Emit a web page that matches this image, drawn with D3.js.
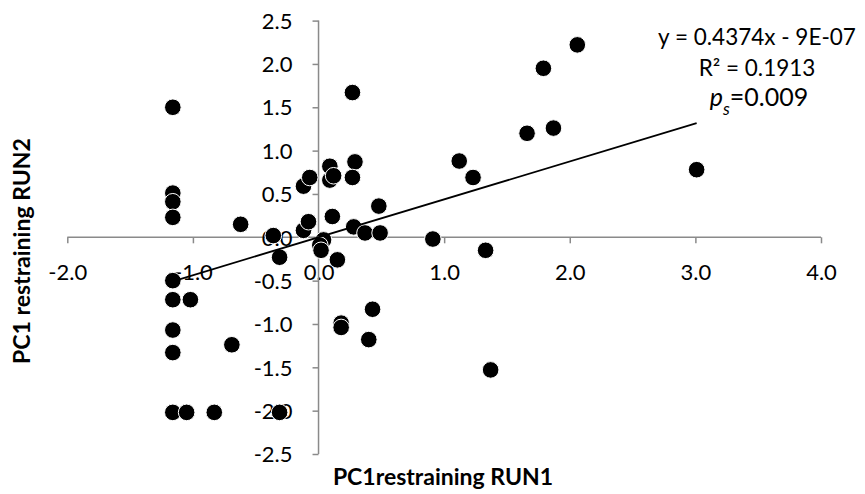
<!DOCTYPE html>
<html>
<head>
<meta charset="utf-8">
<script src="https://cdn.jsdelivr.net/npm/d3@7"></script>
<style>
  body { margin: 0; background: #fff; }
  text { font-family: "Lato", "Open Sans", sans-serif; }
</style>
</head>
<body>
<div id="chart"></div>
<script>
// chart values
var xValues = [-1.16, -1.16, -1.16, -1.16, -1.16, -1.16, -1.02, -1.16, -1.16, -1.16,
               -1.05, -0.83, -0.31, -0.69, -0.62, -0.36, -0.31, -0.12, -0.08, -0.12,
               -0.07, 0.09, 0.09, 0.12, 0.27, 0.29, 0.27, 0.11, 0.28, 0.37,
               0.48, 0.49, 0.04, 0.01, 0.02, 0.15, 0.18, 0.18, 0.43, 0.40,
               2.06, 1.79, 1.66, 1.87, 1.12, 1.23, 3.01, 0.91, 1.33, 1.37];
var yValues = [1.50, 0.51, 0.41, 0.23, -0.50, -0.72, -0.72, -1.07, -1.33, -2.02,
               -2.02, -2.02, -2.02, -1.24, 0.15, 0.02, -0.23, 0.08, 0.18, 0.59,
               0.69, 0.82, 0.66, 0.71, 1.67, 0.87, 0.69, 0.24, 0.12, 0.05,
               0.36, 0.05, -0.03, -0.09, -0.15, -0.26, -0.99, -1.04, -0.83, -1.18,
               2.22, 1.95, 1.20, 1.26, 0.88, 0.69, 0.78, -0.02, -0.15, -1.53];
var xTicks = [-2, -1, 0, 1, 2, 3, 4];
var yTicks = [-2.5, -2, -1.5, -1, -0.5, 0, 0.5, 1, 1.5, 2, 2.5];
var slope = 0.4374, intercept = -9e-7;
var fitLines = ["y = 0.4374x - 9E-07", "R² = 0.1913"];

var width = 865, height = 494;
var svg = d3.select("#chart").append("svg")
    .attr("width", width)
    .attr("height", height);

// scales
var xScale = d3.scaleLinear().domain([-2, 4]).range([67.3, 821]);
var yScale = d3.scaleLinear().domain([-2.5, 2.5]).range([454, 20.6]);

var axisColor = "#8a8a8a";
// excel style labels use a plain hyphen
var fmt = d3.formatLocale({decimal: ".", thousands: ",", grouping: [3], currency: ["", ""], minus: "-"}).format(".1f");

// x axis through y = 0
var gx = svg.append("g")
    .attr("transform", "translate(0," + yScale(0) + ")")
    .call(d3.axisBottom(xScale).tickValues(xTicks).tickSize(6).tickFormat(fmt));
gx.select(".domain").attr("stroke", axisColor).attr("stroke-width", 1.5)
    .attr("d", "M" + xScale(-2) + ",0H" + xScale(4));
gx.selectAll(".tick line").attr("stroke", axisColor).attr("stroke-width", 1.5);
gx.selectAll(".tick text").attr("y", 35).attr("dy", "0.35em")
    .attr("font-size", 22).attr("fill", "#000")
    .style("font-family", "Lato, sans-serif");

// y axis through x = 0
var gy = svg.append("g")
    .attr("transform", "translate(" + xScale(0) + ",0)")
    .call(d3.axisLeft(yScale).tickValues(yTicks).tickSize(6).tickFormat(fmt));
gy.select(".domain").attr("stroke", axisColor).attr("stroke-width", 1.5)
    .attr("d", "M0," + yScale(2.5) + "V" + yScale(-2.5));
gy.selectAll(".tick line").attr("stroke", axisColor).attr("stroke-width", 1.5);
gy.selectAll(".tick text").attr("x", -26).attr("dy", "0.35em")
    .attr("font-size", 22).attr("fill", "#000")
    .style("font-family", "Lato, sans-serif");

// points
svg.append("g").selectAll("circle")
    .data(xValues)
    .enter()
    .append("circle")
      .attr("cx", d => xScale(d))
      .attr("cy", (d, i) => yScale(yValues[i]))
      .attr("r", 8.3)
      .attr("fill", "#000")
      .attr("stroke", "#fff")
      .attr("stroke-width", 1);

// linear trendline over the data range
var xMin = d3.min(xValues), xMax = d3.max(xValues);
svg.append("line")
    .attr("x1", xScale(xMin)).attr("y1", yScale(slope * xMin + intercept))
    .attr("x2", xScale(xMax)).attr("y2", yScale(slope * xMax + intercept))
    .attr("stroke", "#000")
    .attr("stroke-width", 1.8);

// trendline label
svg.append("text")
    .attr("x", 757).attr("y", 45)
    .attr("text-anchor", "middle")
    .attr("font-size", 22.5)
    .text(fitLines[0]);
svg.append("text")
    .attr("x", 757).attr("y", 76)
    .attr("text-anchor", "middle")
    .attr("font-size", 22.5)
    .text(fitLines[1]);
var ps = svg.append("text")
    .attr("x", 759).attr("y", 106)
    .attr("text-anchor", "middle")
    .attr("font-size", 25);
ps.append("tspan").attr("font-style", "italic").text("p");
ps.append("tspan").attr("font-style", "italic").attr("font-size", 17).attr("dy", 9).text("s");
ps.append("tspan").attr("dy", -9).text("=0.009");

// axis titles
svg.append("text")
    .attr("x", 443).attr("y", 485)
    .attr("text-anchor", "middle")
    .attr("font-size", 23)
    .attr("font-weight", "bold")
    .text("PC1restraining RUN1");

svg.append("text")
    .attr("text-anchor", "middle")
    .attr("transform", "translate(30,251) rotate(-90)")
    .attr("font-size", 23)
    .attr("font-weight", "bold")
    .text("PC1 restraining RUN2");
</script>
</body>
</html>
